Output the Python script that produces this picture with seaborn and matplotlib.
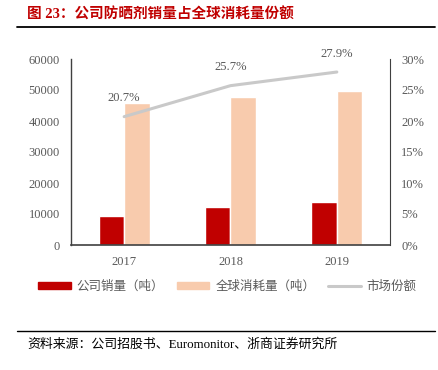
import numpy as np
import pandas as pd
import seaborn as sns
import matplotlib.pyplot as plt
from matplotlib.patches import Patch
from matplotlib.lines import Line2D

sns.set_style('white')
plt.rcParams['font.family'] = ['Liberation Serif', 'Noto Sans CJK SC']

years = ['2017', '2018', '2019']
company_sales = [9400, 12200, 13800]
global_use = [45800, 47800, 49700]
share = [20.7, 25.7, 27.9]
series_names = ['公司销量（吨）', '全球消耗量（吨）', '市场份额']

red = '#C00000'
peach = '#F8CBAD'
grey_line = '#C9C9C9'
txt = '#595959'

df = pd.DataFrame({
    'year': years * 2,
    'value': company_sales + global_use,
    'series': [series_names[0]] * 3 + [series_names[1]] * 3,
})

fig = plt.figure(figsize=(4.39, 3.70), dpi=100)
ax = fig.add_axes([71 / 439, 1 - 245 / 370, 319 / 439, 186 / 370])

sns.barplot(data=df, x='year', y='value', hue='series', ax=ax,
            palette=[red, peach], width=0.48, saturation=1, legend=False)
ax.set_ylim(0, 60000)
ax.set_yticks(np.arange(0, 60001, 10000))
ax.set_xlim(-0.5, 2.5)
ax.set_xlabel('')
ax.set_ylabel('')
ax.tick_params(axis='both', length=0, labelsize=9, colors=txt, pad=8)
for s in ['top', 'right']:
    ax.spines[s].set_visible(False)
ax.spines['left'].set_color('#404040')
ax.spines['bottom'].set_color('#404040')
ax.spines['left'].set_linewidth(1.0)
ax.spines['bottom'].set_linewidth(1.2)

ax2 = ax.twinx()
pos = np.arange(len(years))
sns.lineplot(x=pos, y=share, ax=ax2, color=grey_line, linewidth=2.2)
ax2.set_ylim(0, 30)
ax2.set_yticks(np.arange(0, 31, 5))
ax2.set_yticklabels([f'{v}%' for v in range(0, 31, 5)])
ax2.tick_params(axis='y', length=0, labelsize=9, colors=txt, pad=8)
for s in ['top', 'left', 'bottom']:
    ax2.spines[s].set_visible(False)
ax2.spines['right'].set_color('#404040')
for p, v in zip(pos, share):
    ax2.annotate(f'{v}%', (p, v), xytext=(0, 9), textcoords='offset points',
                 ha='center', va='bottom', fontsize=9, color=txt)

# legend
handles = [Patch(color=red), Patch(color=peach),
           Line2D([], [], color=grey_line, linewidth=2.2)]
fig.legend(handles, series_names, loc='center', bbox_to_anchor=(0.518, 1 - 287 / 370),
           ncol=3, frameon=False, fontsize=9, labelcolor=txt,
           handlelength=2.6, handleheight=0.45, columnspacing=1.0, handletextpad=0.5)

# title and rules
fig.text(27 / 439, 1 - 15 / 370, '图 23：公司防晒剂销量占全球消耗量份额', color=red,
         fontsize=10.5, fontweight='bold', va='center', ha='left')
fig.add_artist(Line2D([17 / 439, 435 / 439], [1 - 27 / 370] * 2, color='black', linewidth=1.3))
fig.add_artist(Line2D([17 / 439, 435 / 439], [1 - 331 / 370] * 2, color='black', linewidth=1.0))
fig.text(27 / 439, 1 - 345 / 370, '资料来源：公司招股书、Euromonitor、浙商证券研究所', color='black',
         fontsize=9.3, va='center', ha='left')

fig.savefig('out.png', dpi=100)
